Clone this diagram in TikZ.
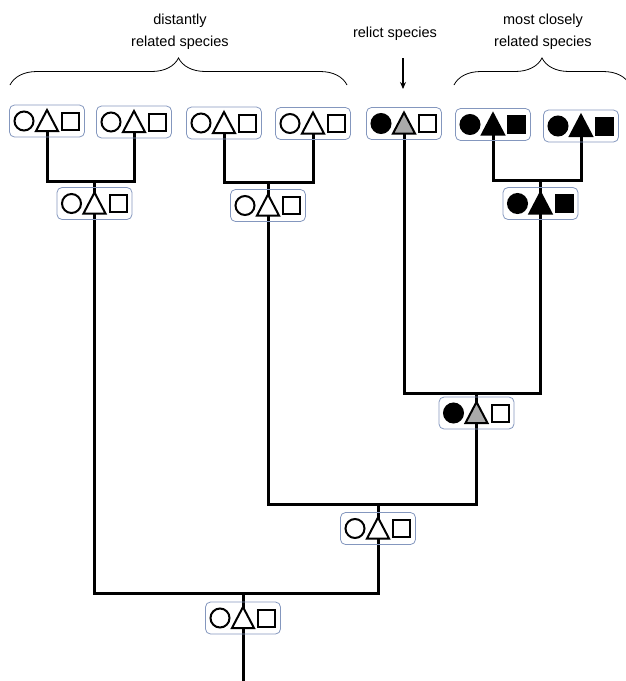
\documentclass[tikz,border=0pt]{standalone}
\usepackage{fontspec}
\setmainfont{Liberation Sans}
\usepackage{xcolor}
\usetikzlibrary{arrows.meta, backgrounds, decorations.pathreplacing}

\definecolor{boxblue}{RGB}{132,151,190}
\definecolor{traitgray}{RGB}{170,170,170}

% circle, triangle and square of one taxon box
\newcommand{\traits}[4]{%
  \begin{scope}[shift={(#1.center)}]
    \draw[trait, fill=#2] (-23,0) circle (9.5pt);
    \draw[trait, fill=#3] (-11,10) -- (11,10) -- (0,-11) -- cycle;
    \draw[trait, fill=#4] (15,-8.5) rectangle (32,8.5);
  \end{scope}}

\begin{document}
\begin{tikzpicture}[
    x=1pt, y=-1pt,
    taxon/.style={rectangle, draw=boxblue, line width=0.8pt, rounded corners=5pt,
    minimum width=75pt, minimum height=32pt, inner sep=0pt},
    trait/.style={line width=2pt},
    branch/.style={line width=3pt},
    grouptext/.style={align=center, font=\fontsize{14.5}{22}\selectfont},
    groupbrace/.style={decorate, decoration={brace, amplitude=27pt}, line width=0.8pt}
]
\useasboundingbox (0,0) rectangle (625,681);

% labels
\node[grouptext] (distlab) at (180,32) {distantly\\related species};
\node[grouptext] (relictlab) at (395,34) {relict species};
\node[grouptext] (closelab) at (543,32) {most closely\\related species};

\coordinate (distL) at (10,85);
\coordinate (distR) at (347,85);
\coordinate (closeL) at (454,85);
\coordinate (closeR) at (630,85);
\coordinate (arrowtop) at (403,58);
\coordinate (arrowtip) at (403,89);

\draw[groupbrace] (distL) -- (distR);
\draw[groupbrace] (closeL) -- (closeR);
\draw[-{Stealth[length=7pt,width=6pt]}, line width=1.2pt] (arrowtop) -- (arrowtip);

% living species
\node[taxon] (dist1) at (47,121) {};
\node[taxon] (dist2) at (134,122) {};
\node[taxon] (dist3) at (224,123) {};
\node[taxon] (dist4) at (313,123.5) {};
\node[taxon] (relict) at (404,123.5) {};
\node[taxon] (close1) at (493,124.5) {};
\node[taxon] (close2) at (581,126) {};

% ancestors
\node[taxon] (ancA) at (94.5,203.5) {};
\node[taxon] (ancB) at (268,205.5) {};
\node[taxon] (ancC) at (540.5,203.5) {};
\node[taxon] (ancD) at (476.5,413) {};
\node[taxon] (ancE) at (378,528.5) {};
\node[taxon] (ancF) at (243,618) {};

\traits{dist1}{white}{white}{white}
\traits{dist2}{white}{white}{white}
\traits{dist3}{white}{white}{white}
\traits{dist4}{white}{white}{white}
\traits{relict}{black}{traitgray}{white}
\traits{close1}{black}{black}{black}
\traits{close2}{black}{black}{black}
\traits{ancA}{white}{white}{white}
\traits{ancB}{white}{white}{white}
\traits{ancC}{black}{black}{black}
\traits{ancD}{black}{traitgray}{white}
\traits{ancE}{white}{white}{white}
\traits{ancF}{white}{white}{white}

% forks
\coordinate (forkA) at (94.5,181);
\coordinate (forkB) at (268,182);
\coordinate (forkC) at (540.5,180);
\coordinate (forkD) at (476.5,393);
\coordinate (forkE) at (378,504);
\coordinate (forkF) at (243,593);
\coordinate (stem) at (243,681);

\begin{scope}[on background layer]
\draw[branch] (dist1.center) |- (forkA) -| (dist2.center);
\draw[branch] (ancA.center) -- (forkA);
\draw[branch] (dist3.center) |- (forkB) -| (dist4.center);
\draw[branch] (ancB.center) -- (forkB);
\draw[branch] (close1.center) |- (forkC) -| (close2.center);
\draw[branch] (ancC.center) -- (forkC);
\draw[branch] (relict.center) |- (forkD) -| (ancC.center);
\draw[branch] (ancD.center) -- (forkD);
\draw[branch] (ancB.center) |- (forkE) -| (ancD.center);
\draw[branch] (ancE.center) -- (forkE);
\draw[branch] (ancA.center) |- (forkF) -| (ancE.center);
\draw[branch] (ancF.center) -- (forkF);
\draw[branch] (ancF.center) -- (stem);
\end{scope}

\end{tikzpicture}
\end{document}
